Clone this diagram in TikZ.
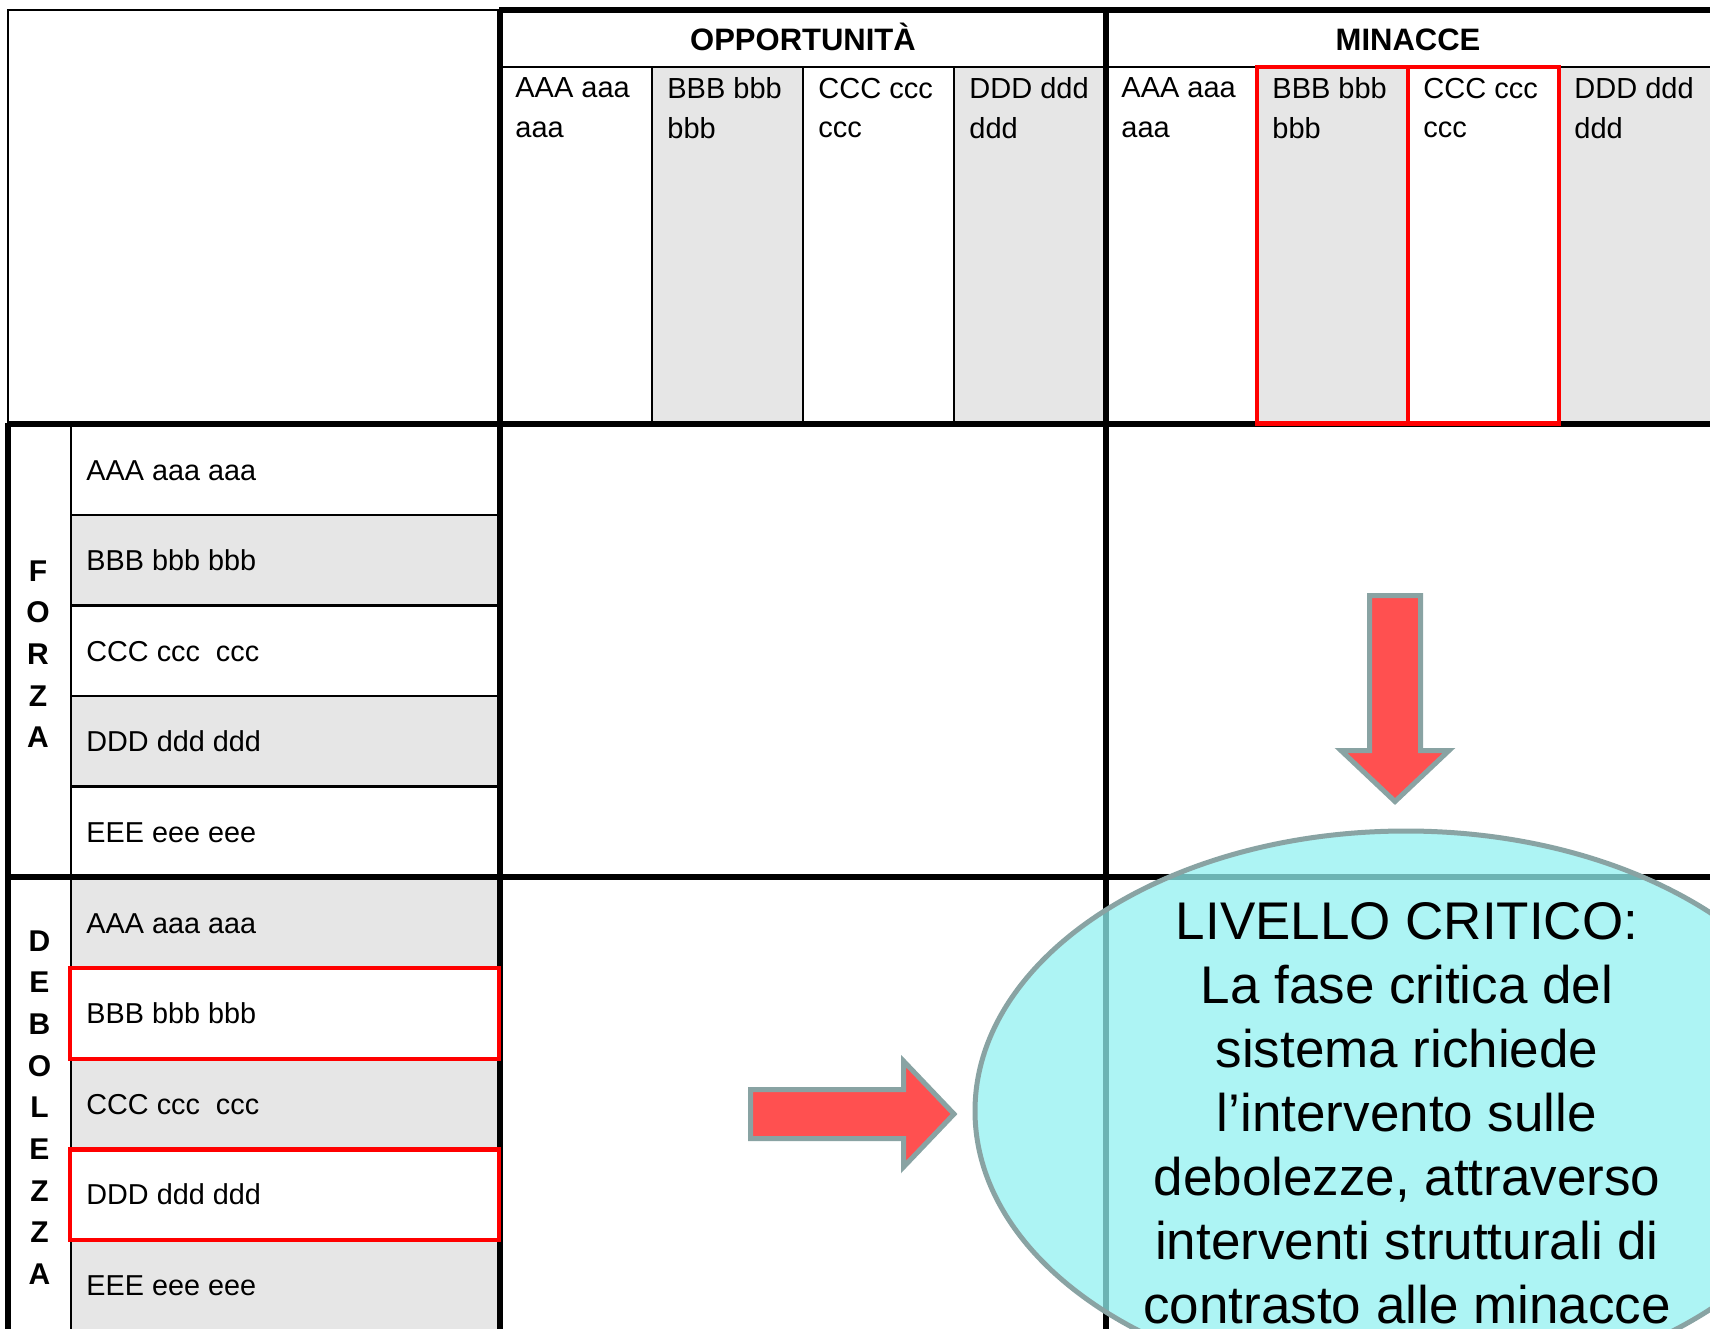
\documentclass[tikz,border=0pt]{standalone}
\usepackage{fontspec}
\setmainfont{Liberation Sans}
\definecolor{cellgray}{RGB}{230,230,230}
\definecolor{boxred}{RGB}{255,0,0}
\definecolor{arrowred}{RGB}{255,80,80}
\definecolor{arrowedge}{RGB}{137,163,163}
\definecolor{ellcyan}{RGB}{145,240,240}
\begin{document}
\begin{tikzpicture}[x=0.5pt,y=-0.5pt,
  thinrule/.style={line width=1.1pt,black},
  boxrule/.style={line width=0.85pt,black},
  thickrule/.style={line width=2.6pt,black},
  redbox/.style={line width=2.4pt,draw=boxred},
  fatarrow/.style={fill=arrowred,draw=arrowedge,line width=2.5pt,line join=miter},
  critical/.style={fill=ellcyan,fill opacity=0.75,draw=arrowedge,line width=2.5pt},
  hdr/.style={font=\fontsize{15.5}{19}\bfseries\selectfont,inner sep=0pt,anchor=base},
  coltext/.style={font=\fontsize{14.5}{19.65}\selectfont,inner sep=0pt,anchor=north west,align=left},
  rowtext/.style={font=\fontsize{14.4}{18}\selectfont,inner sep=0pt,anchor=base west},
  vertword/.style={font=\fontsize{15}{20.85}\bfseries\selectfont,inner sep=0pt,anchor=north,align=center},
  bigtext/.style={font=\fontsize{26.5}{32}\selectfont,inner sep=0pt,anchor=north,align=center}]
\useasboundingbox (0,0) rectangle (1710,1329);
\clip (0,0) rectangle (1710,1329);
% gray cells
\fill[cellgray] (652,66.7) rectangle (803,424);
\fill[cellgray] (954,66.7) rectangle (1106,424);
\fill[cellgray] (1257,66.7) rectangle (1408,424);
\fill[cellgray] (1559,66.7) rectangle (1712,424);
\fill[cellgray] (71,515) rectangle (500,605.5);
\fill[cellgray] (71,696) rectangle (500,786.5);
\fill[cellgray] (71,877) rectangle (500,967.5);
\fill[cellgray] (71,1058) rectangle (500,1148.5);
\fill[cellgray] (71,1239) rectangle (500,1335);
% thin rules
\draw[boxrule] (500,10) -- (8,10) -- (8,424);
\draw[thinrule] (500,66.7) -- (1712,66.7);
\foreach \x in {652,803,954,1257,1408,1559} \draw[thinrule] (\x,66.7) -- (\x,424);
\draw[thinrule] (71,424) -- (71,1335);
\foreach \y in {515,605.5,696,786.5,967.5,1058,1148.5,1239} \draw[thinrule] (71,\y) -- (500,\y);
% thick rules
\draw[thickrule] (499,10) -- (1712,10);
\draw[thickrule] (500,9) -- (500,1335);
\draw[thickrule] (1106,9) -- (1106,1335);
\draw[thickrule] (7,424) -- (1712,424);
\draw[thickrule] (7,877) -- (1712,877);
\draw[thickrule] (8,423) -- (8,1335);
% red highlight boxes
\draw[redbox] (1257,67) rectangle (1408,423.5);
\draw[redbox] (1408,67) rectangle (1559,423.5);
\draw[redbox] (70,968) rectangle (499,1059);
\draw[redbox] (70,1149.5) rectangle (499,1240);
% headers
\node[hdr] (opp) at (803,50) {OPPORTUNITÀ};
\node[hdr] (min) at (1408,50) {MINACCE};
\node[coltext] (oa) at (515,77.5) {AAA aaa\\aaa};
\node[coltext] (ob) at (667,77.5) {BBB bbb\\bbb};
\node[coltext] (oc) at (818,77.5) {CCC ccc\\ccc};
\node[coltext] (od) at (969,77.5) {DDD ddd\\ddd};
\node[coltext] (ma) at (1121,77.5) {AAA aaa\\aaa};
\node[coltext] (mb) at (1272,77.5) {BBB bbb\\bbb};
\node[coltext] (mc) at (1423,77.5) {CCC ccc\\ccc};
\node[coltext] (md) at (1574,77.5) {DDD ddd\\ddd};
% row labels
\node[rowtext] (fa) at (86,480) {AAA aaa aaa};
\node[rowtext] (fb) at (86,570.5) {BBB bbb bbb};
\node[rowtext] (fc) at (86,661) {CCC ccc\ \ ccc};
\node[rowtext] (fd) at (86,751.5) {DDD ddd ddd};
\node[rowtext] (fe) at (86,842) {EEE eee eee};
\node[rowtext] (da) at (86,933) {AAA aaa aaa};
\node[rowtext] (db) at (86,1023.5) {BBB bbb bbb};
\node[rowtext] (dc) at (86,1114) {CCC ccc\ \ ccc};
\node[rowtext] (dd) at (86,1204.5) {DDD ddd ddd};
\node[rowtext] (de) at (86,1295) {EEE eee eee};
\node[vertword] (forza) at (38,560) {F\\O\\R\\Z\\A};
\node[vertword] (deb) at (39.5,930) {D\\E\\B\\O\\L\\E\\Z\\Z\\A};
% arrows
\draw[fatarrow] (1369.5,595.5) -- (1420.5,595.5) -- (1420.5,750.5) -- (1449,750.5)
  -- (1395,801.5) -- (1341,750.5) -- (1369.5,750.5) -- cycle;
\draw[fatarrow] (750.5,1089.5) -- (903.5,1089.5) -- (903.5,1061) -- (954,1114)
  -- (903.5,1167) -- (903.5,1138.5) -- (750.5,1138.5) -- cycle;
% critical ellipse
\draw[critical] (1406,1111) ellipse [x radius=431, y radius=280];
\node[bigtext] (crit) at (1407,902) {LIVELLO CRITICO:\\La fase critica del\\sistema richiede\\l’intervento sulle\\debolezze, attraverso\\interventi strutturali di\\contrasto alle minacce};
\end{tikzpicture}
\end{document}
